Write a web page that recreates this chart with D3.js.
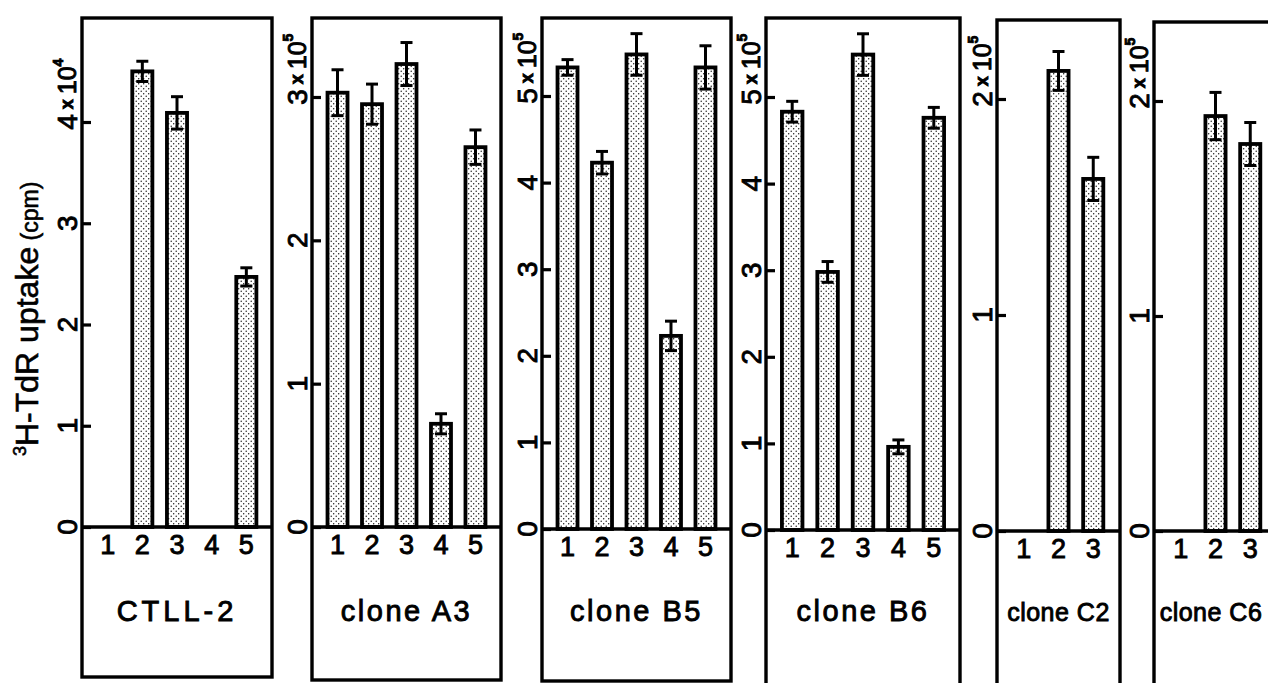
<!DOCTYPE html>
<html><head><meta charset="utf-8">
<script src="https://cdn.jsdelivr.net/npm/d3@7"></script>
<style>body{margin:0;background:#fff;overflow:hidden} svg{display:block}</style>
</head><body>
<svg id="c" width="1268" height="683"></svg>
<script>
// ---------- data ----------
const panelNames = ["CTLL-2", "clone A3", "clone B5", "clone B6", "clone C2", "clone C6"];
const categories5 = ["1", "2", "3", "4", "5"];
const categories3 = ["1", "2", "3"];
const ctllValues = [null, 4.50, 4.09, null, 2.47];
const ctllErrors = [null, 0.10, 0.16, null, 0.09];
const a3Values = [3.03, 2.95, 3.23, 0.72, 2.65];
const a3Errors = [0.16, 0.14, 0.15, 0.07, 0.12];
const b5Values = [5.33, 4.23, 5.48, 2.23, 5.33];
const b5Errors = [0.09, 0.13, 0.24, 0.17, 0.25];
const b6Values = [4.83, 2.98, 5.49, 0.96, 4.76];
const b6Errors = [0.12, 0.12, 0.24, 0.08, 0.12];
const c2Values = [null, 2.13, 1.63];
const c2Errors = [null, 0.09, 0.10];
const c6Values = [null, 1.93, 1.80];
const c6Errors = [null, 0.11, 0.10];
const ctllTicks = [0, 1, 2, 3, 4];
const a3Ticks = [0, 1, 2, 3];
const b5Ticks = [0, 1, 2, 3, 4, 5];
const b6Ticks = [0, 1, 2, 3, 4, 5];
const c2Ticks = [0, 1, 2];
const c6Ticks = [0, 1, 2];
const exponents = ["4", "5", "5", "5", "5", "5"];
const yLabelMain = "H-TdR uptake";
const yLabelSup = "3";
const yLabelUnit = "(cpm)";

const series = [
  {cats: categories5, vals: ctllValues, errs: ctllErrors, ticks: ctllTicks},
  {cats: categories5, vals: a3Values, errs: a3Errors, ticks: a3Ticks},
  {cats: categories5, vals: b5Values, errs: b5Errors, ticks: b5Ticks},
  {cats: categories5, vals: b6Values, errs: b6Errors, ticks: b6Ticks},
  {cats: categories3, vals: c2Values, errs: c2Errors, ticks: c2Ticks},
  {cats: categories3, vals: c6Values, errs: c6Errors, ticks: c6Ticks}
];

// ---------- layout (positions only) ----------
const layout = [
  {left: 82,   right: 272,  top: 18, bottom: 677, zeroY: 527, topTickY: 122, po: 0.45, tSize: 29, tSpace: 4},
  {left: 312,  right: 501,  top: 18, bottom: 680, zeroY: 527, topTickY: 97,  po: 0.45, tSize: 29, tSpace: 2.5},
  {left: 542,  right: 731,  top: 18, bottom: 681, zeroY: 529, topTickY: 96,  po: 0.45, tSize: 29, tSpace: 2.5},
  {left: 766,  right: 960,  top: 18, bottom: 690, zeroY: 530, topTickY: 97,  po: 0.45, tSize: 29, tSpace: 2.5},
  {left: 997,  right: 1120, top: 20, bottom: 690, zeroY: 531, topTickY: 99,  po: 0.48, tSize: 25, tSpace: 0.5},
  {left: 1154, right: 1277, top: 22, bottom: 690, zeroY: 531, topTickY: 101, po: 0.48, tSize: 25, tSpace: 0.5}
];

const FONT = "'Liberation Sans', Arial, Helvetica, sans-serif";
const svg = d3.select("#c");
svg.append("rect").attr("width", 1268).attr("height", 683).attr("fill", "#fff");

const defs = svg.append("defs");
const pat = defs.append("pattern").attr("id", "dots")
  .attr("patternUnits", "userSpaceOnUse").attr("width", 5).attr("height", 5);
pat.append("rect").attr("width", 5).attr("height", 5).attr("fill", "#fff");
pat.append("circle").attr("cx", 1.2).attr("cy", 1.2).attr("r", 0.7).attr("fill", "#111");
pat.append("circle").attr("cx", 3.7).attr("cy", 3.7).attr("r", 0.7).attr("fill", "#111");

function heavy(sel, w) {
  return sel.attr("stroke", "#000").attr("stroke-width", w).attr("paint-order", "stroke");
}

series.forEach((s, i) => {
  const L = layout[i];
  const g = svg.append("g");
  const x = d3.scaleBand().domain(s.cats).range([L.left, L.right])
    .paddingInner(0.42).paddingOuter(L.po);
  const y = d3.scaleLinear().domain([0, s.ticks[s.ticks.length - 1]])
    .range([L.zeroY, L.topTickY]);

  // frame
  g.append("rect").attr("x", L.left).attr("y", L.top)
    .attr("width", L.right - L.left).attr("height", L.bottom - L.top)
    .attr("fill", "none").attr("stroke", "#000").attr("stroke-width", 3.4);

  // bars
  const rows = s.cats.map((c, j) => ({c, v: s.vals[j], e: s.errs[j]})).filter(d => d.v != null);
  g.selectAll("rect.bar").data(rows).enter().append("rect").attr("class", "bar")
    .attr("x", d => x(d.c)).attr("width", x.bandwidth())
    .attr("y", d => y(d.v)).attr("height", d => y(0) - y(d.v))
    .attr("fill", "url(#dots)").attr("stroke", "#000").attr("stroke-width", 3.8);

  // error bars
  const eb = g.selectAll("g.err").data(rows).enter().append("g").attr("class", "err")
    .attr("stroke", "#000").attr("stroke-width", 3);
  const cx = d => x(d.c) + x.bandwidth() / 2;
  eb.append("line").attr("x1", cx).attr("x2", cx)
    .attr("y1", d => y(d.v + d.e)).attr("y2", d => y(d.v - d.e));
  eb.append("line").attr("x1", d => cx(d) - 6).attr("x2", d => cx(d) + 6)
    .attr("y1", d => y(d.v + d.e)).attr("y2", d => y(d.v + d.e));
  eb.append("line").attr("x1", d => cx(d) - 6).attr("x2", d => cx(d) + 6)
    .attr("y1", d => y(d.v - d.e)).attr("y2", d => y(d.v - d.e));

  // zero line
  g.append("line").attr("x1", L.left).attr("x2", L.right)
    .attr("y1", y(0)).attr("y2", y(0)).attr("stroke", "#000").attr("stroke-width", 3.4);

  // y axis ticks (inward)
  const ya = g.append("g").attr("transform", `translate(${L.left},0)`)
    .call(d3.axisRight(y).tickValues(s.ticks).tickSize(9).tickFormat(""));
  ya.select(".domain").remove();
  ya.selectAll(".tick line").attr("stroke", "#000").attr("stroke-width", 3.2);

  // y tick labels, rotated
  const fs = 28;
  s.ticks.forEach((t, k) => {
    const isTop = k === s.ticks.length - 1;
    const txt = g.append("text")
      .attr("transform", `translate(${L.left - 15},${y(t) + 0.278 * fs}) rotate(-90)`)
      .attr("text-anchor", "start").attr("dominant-baseline", "central")
      .attr("font-family", FONT).attr("font-size", fs).attr("fill", "#000");
    heavy(txt, 0.9);
    txt.append("tspan").text(String(t));
    if (isTop) {
      txt.append("tspan").attr("font-size", 18).attr("font-weight", "bold").text(" x ");
      txt.append("tspan").attr("font-size", 25).text("10");
      txt.append("tspan").attr("font-size", 14).attr("font-weight", "bold")
        .attr("dy", -9).text(exponents[i]);
    }
  });

  // category labels
  const xa = g.append("g").attr("transform", `translate(0,${y(0)})`)
    .call(d3.axisBottom(x).tickSize(0).tickPadding(8));
  xa.select(".domain").remove();
  heavy(xa.selectAll(".tick text").attr("font-family", FONT).attr("font-size", 27).attr("fill", "#000"), 0.9);

  // panel title
  heavy(g.append("text").attr("x", i === 5 ? 1211 : (L.left + L.right) / 2).attr("y", 621)
    .attr("text-anchor", "middle").attr("font-family", FONT)
    .attr("font-size", L.tSize).attr("letter-spacing", L.tSpace).attr("fill", "#000")
    .text(panelNames[i]), 0.9);
});

// y axis title
const yt = svg.append("text")
  .attr("transform", "translate(38,456) rotate(-90)")
  .attr("text-anchor", "start").attr("font-family", FONT).attr("fill", "#000");
heavy(yt, 0.6);
yt.append("tspan").attr("font-size", 18).attr("dy", -12).text(yLabelSup);
yt.append("tspan").attr("font-size", 32).attr("dy", 12).text(yLabelMain);
yt.append("tspan").attr("font-size", 23).text(" " + yLabelUnit);
</script>
</body></html>
